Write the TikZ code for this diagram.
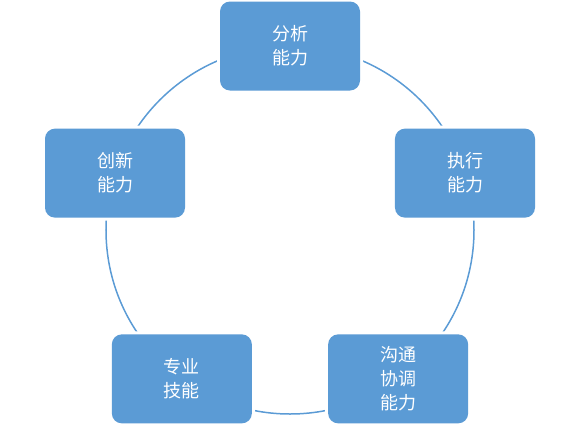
\documentclass[tikz,border=0pt]{standalone}
\usepackage{fontspec}
\newfontfamily\cjk{Noto Sans CJK SC}
\definecolor{boxblue}{HTML}{5B9BD5}
\begin{document}
\begin{tikzpicture}[x=1pt,y=1pt,
  capbox/.style={fill=boxblue, rounded corners=10pt, minimum width=140pt, minimum height=89pt,
    inner sep=0pt, align=center, text=white,
    font=\cjk\fontsize{18pt}{24pt}\selectfont,
    preaction={draw=white, line width=6pt}}]
\useasboundingbox (-290,-202) rectangle (290,230);
\draw[boxblue, line width=1.5pt] (0,0) circle (184);
\node[capbox] (a) at (90:184) {分析\\能力};
\node[capbox] (b) at (18:184) {执行\\能力};
\node[capbox] (c) at (-54:184) {沟通\\协调\\能力};
\node[capbox] (d) at (-126:184) {专业\\技能};
\node[capbox] (e) at (162:184) {创新\\能力};
\end{tikzpicture}
\end{document}
